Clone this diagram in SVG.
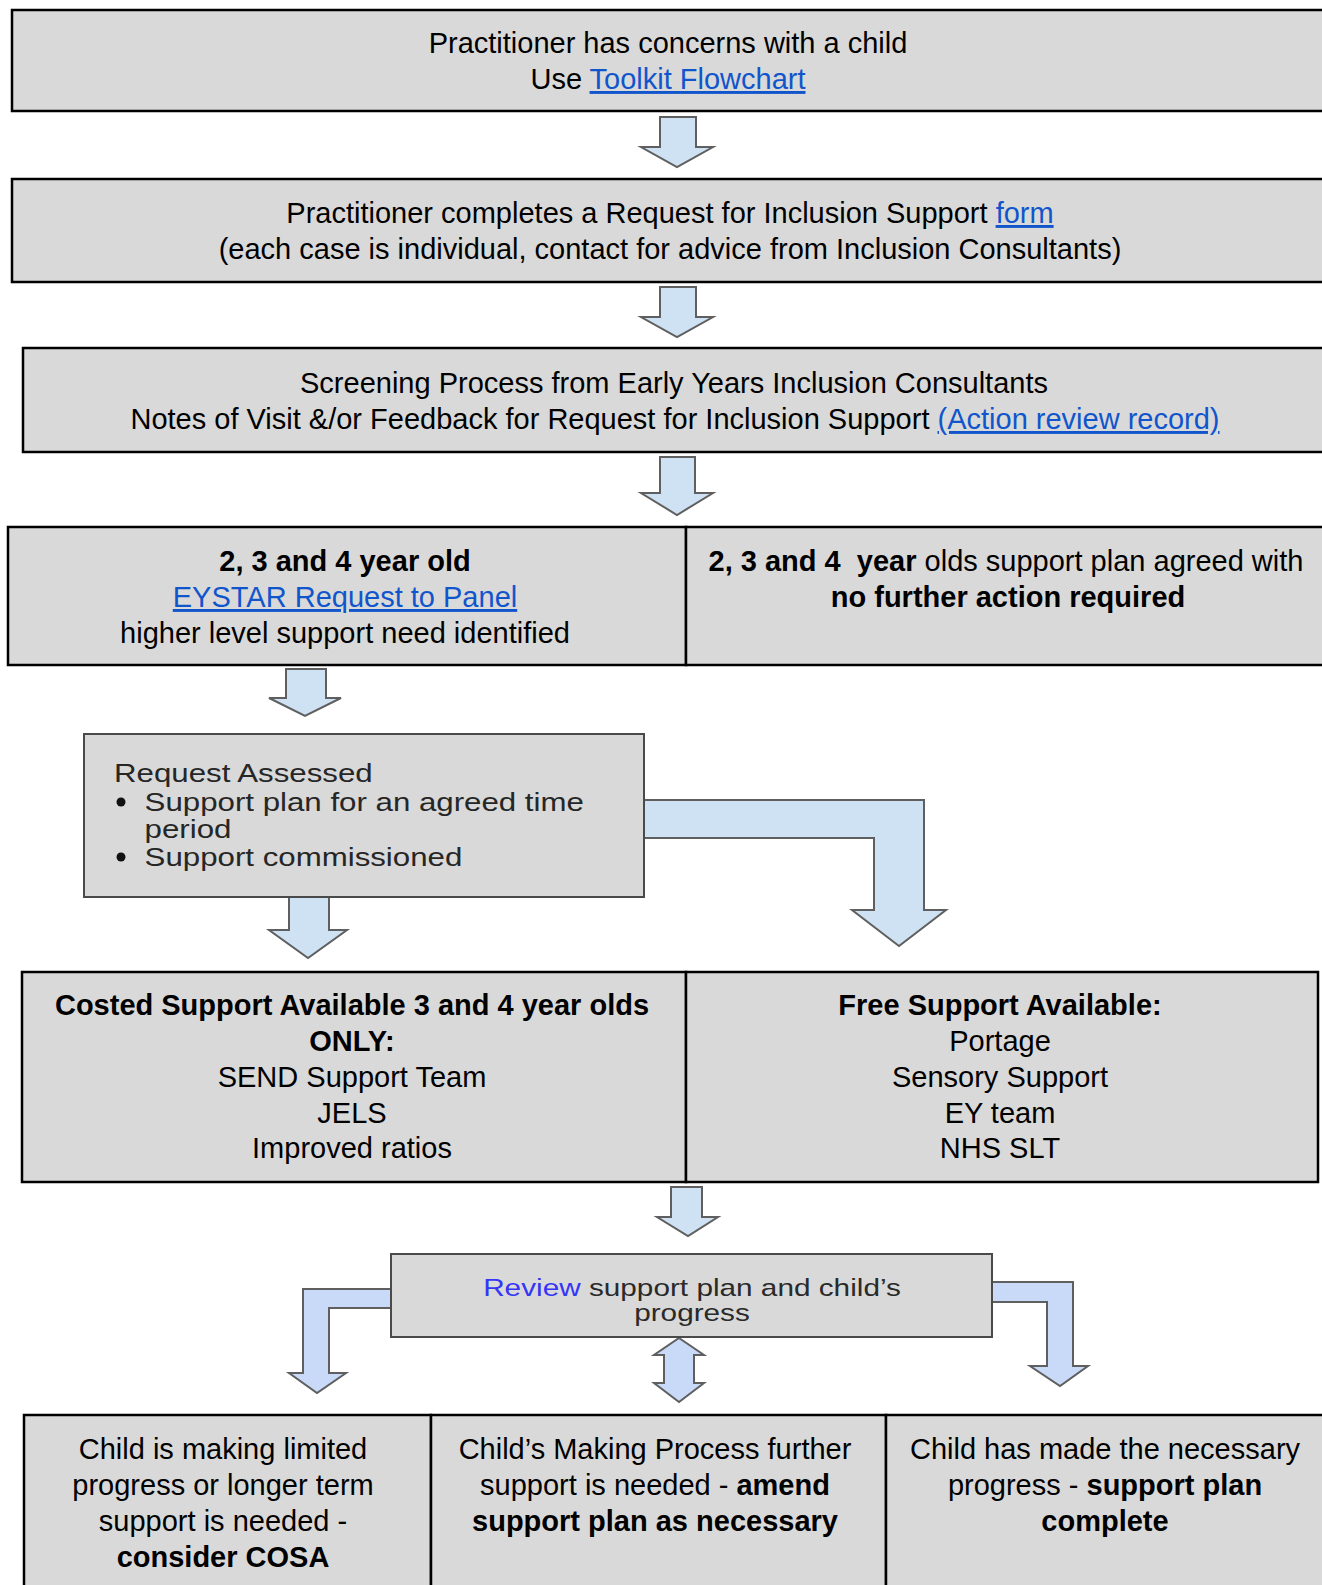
<svg xmlns="http://www.w3.org/2000/svg" width="1322" height="1585" viewBox="0 0 1322 1585">
<style>
.box{fill:#d9d9d9;stroke:#000;stroke-width:2.5}
.ibox{fill:#d9d9d9;stroke:#4a4a4a;stroke-width:2}
.t{font-family:"Liberation Sans",Arial,sans-serif;font-size:29px;fill:#000;text-anchor:middle}
.b{font-weight:bold}
.lk{fill:#1155cc;text-decoration:underline}
.s{font-family:"Liberation Sans",Arial,sans-serif;font-size:25px;fill:#262626}
.r{font-family:"Liberation Sans",Arial,sans-serif;font-size:24px;fill:#2a2a2a;text-anchor:middle}
.ar{fill:#cfe2f3;stroke:#5f5f5f;stroke-width:2;stroke-linejoin:miter}
.ar2{fill:#c9daf8;stroke:#5f5f5f;stroke-width:2;stroke-linejoin:miter}
</style>
<rect width="1322" height="1585" fill="#fff"/>
<g id="connectors">
<polygon class="ar" points="660,117 696,117 696,147 713,147 677,167 641,147 660,147"/>
<polygon class="ar" points="660,287 696,287 696,317 713,317 677,337 641,317 660,317"/>
<polygon class="ar" points="660,457 695,457 695,493 713,493 677,515 641,493 660,493"/>
<polygon class="ar" points="286,669 326,669 326,698 341,698 305,716 269,698 286,698"/>
<polygon class="ar" points="289,897 329,897 329,930 347,930 308,958 269,930 289,930"/>
<polygon class="ar" points="644,800 924,800 924,910 946,910 899,946 852,910 874,910 874,838 644,838"/>
<polygon class="ar" points="671,1187 702,1187 702,1217 718,1217 688,1236 657,1217 671,1217"/>
<polygon class="ar2" points="391,1289 303,1289 303,1373 289,1373 317,1393 346,1373 329,1373 329,1308 391,1308"/>
<polygon class="ar2" points="992,1282 1073,1282 1073,1366 1088,1366 1060,1386 1030,1366 1047,1366 1047,1302 992,1302"/>
<polygon class="ar2" points="679,1338 704,1355 694,1355 694,1383 704,1383 679,1402 654,1383 664,1383 664,1355 654,1355"/>
</g>
<g id="node-concerns">
<rect class="box" x="12" y="10" width="1330" height="101"/>
<text class="t" x="668" y="53">Practitioner has concerns with a child</text>
<text class="t" x="668" y="89">Use <tspan class="lk">Toolkit Flowchart</tspan></text>
</g>
<g id="node-request">
<rect class="box" x="12" y="179" width="1330" height="103"/>
<text class="t" x="670" y="223">Practitioner completes a Request for Inclusion Support <tspan class="lk">form</tspan></text>
<text class="t" x="670" y="259">(each case is individual, contact for advice from Inclusion Consultants)</text>
</g>
<g id="node-screening">
<rect class="box" x="23" y="348" width="1320" height="104"/>
<text class="t" x="674" y="393">Screening Process from Early Years Inclusion Consultants</text>
<text class="t" x="675" y="429">Notes of Visit &amp;/or Feedback for Request for Inclusion Support <tspan class="lk">(Action review record)</tspan></text>
</g>
<g id="node-eystar">
<rect class="box" x="8" y="527" width="678" height="138"/>
<text class="t b" x="345" y="571">2, 3 and 4 year old</text>
<text class="t lk" x="345" y="607">EYSTAR Request to Panel</text>
<text class="t" x="345" y="643">higher level support need identified</text>
</g>
<g id="node-nfa">
<rect class="box" x="686" y="527" width="660" height="138"/>
<text class="t" x="1006" y="571"><tspan class="b">2, 3 and 4&#160; year</tspan> olds support plan agreed with</text>
<text class="t b" x="1008" y="607">no further action required</text>
</g>
<g id="node-assessed">
<rect class="ibox" x="84" y="734" width="560" height="163"/>
<circle cx="121" cy="802" r="4.5" fill="#111"/>
<circle cx="121" cy="857" r="4.5" fill="#111"/>
<g transform="translate(114,0) scale(1.25,1)">
<text class="s" x="0" y="782">Request Assessed</text>
<text class="s" x="24.5" y="811">Support plan for an agreed time</text>
<text class="s" x="24.5" y="838">period</text>
<text class="s" x="24.5" y="866">Support commissioned</text>
</g>
</g>
<g id="node-costed">
<rect class="box" x="22" y="972" width="664" height="210"/>
<text class="t b" x="352" y="1015">Costed Support Available 3 and 4 year olds</text>
<text class="t b" x="352" y="1051">ONLY:</text>
<text class="t" x="352" y="1087">SEND Support Team</text>
<text class="t" x="352" y="1123">JELS</text>
<text class="t" x="352" y="1158">Improved ratios</text>
</g>
<g id="node-free">
<rect class="box" x="686" y="972" width="632" height="210"/>
<text class="t b" x="1000" y="1015">Free Support Available:</text>
<text class="t" x="1000" y="1051">Portage</text>
<text class="t" x="1000" y="1087">Sensory Support</text>
<text class="t" x="1000" y="1123">EY team</text>
<text class="t" x="1000" y="1158">NHS SLT</text>
</g>
<g id="node-review">
<rect class="ibox" x="391" y="1254" width="601" height="83"/>
<g transform="translate(692,0) scale(1.24,1)">
<text class="r" x="0" y="1296"><tspan fill="#3535f5">Review</tspan> support plan and child’s</text>
<text class="r" x="0" y="1321">progress</text>
</g>
</g>
<g id="node-limited">
<rect class="box" x="24" y="1415" width="407" height="185"/>
<text class="t" x="223" y="1459">Child is making limited</text>
<text class="t" x="223" y="1495">progress or longer term</text>
<text class="t" x="223" y="1531">support is needed -</text>
<text class="t b" x="223" y="1567">consider COSA</text>
</g>
<g id="node-amend">
<rect class="box" x="431" y="1415" width="455" height="185"/>
<text class="t" x="655" y="1459">Child’s Making Process further</text>
<text class="t" x="655" y="1495">support is needed - <tspan class="b">amend</tspan></text>
<text class="t b" x="655" y="1531">support plan as necessary</text>
</g>
<g id="node-complete">
<rect class="box" x="886" y="1415" width="460" height="185"/>
<text class="t" x="1105" y="1459">Child has made the necessary</text>
<text class="t" x="1105" y="1495">progress - <tspan class="b">support plan</tspan></text>
<text class="t b" x="1105" y="1531">complete</text>
</g>
</svg>
